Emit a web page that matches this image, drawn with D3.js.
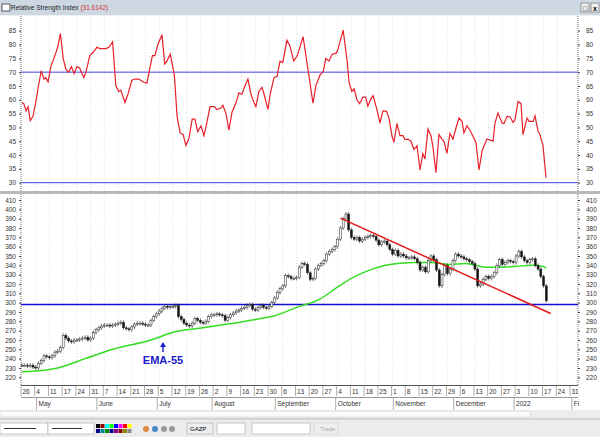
<!DOCTYPE html>
<html><head><meta charset="utf-8">
<script src="https://cdn.jsdelivr.net/npm/d3@7"></script>
<style>body{margin:0;background:#fff}svg{display:block}text{font-family:"Liberation Sans",Arial,sans-serif}</style>
</head><body><div id="c"></div>
<script>
// ---- data ----
const closes=[233,233,232,233,231,230,235,238,243,242,241,243,247,248,252,265,262,259,258,260,260,261,262,263,260,262,268,271,273,275,276,276,275,276,277,278,279,273,272,271,274,277,278,278,277,276,276,281,285,288,291,294,296,295,296,296,297,285,282,278,276,275,278,283,281,279,278,280,285,287,287,288,287,286,281,284,287,289,291,292,294,295,297,298,293,292,295,297,295,294,296,300,305,311,315,318,329,328,326,326,327,338,342,341,332,325,326,336,340,342,345,352,355,357,360,368,380,390,395,378,370,368,370,366,368,370,371,372,371,367,362,365,366,362,357,352,356,350,352,350,348,348,349,347,343,335,338,333,345,350,346,335,318,330,340,331,336,345,352,350,349,347,346,344,342,336,318,320,325,328,326,328,332,340,346,341,343,345,344,343,350,355,349,345,343,346,347,340,336,328,318,302];
const rsi=[[0,59],[0.7,58.5],[1.5,56],[2.2,57.5],[3,52.5],[4,54],[5,59],[6,65],[7,70.5],[8,67.5],[8.7,68],[9.5,66.5],[10.5,72],[12,76],[13,79],[14,84],[15,75],[16,71],[17,70],[18,72],[19,69.5],[20,72],[21,71.5],[22.5,68],[23.3,70],[24.7,76],[25.8,77],[27.3,79],[28.4,78.5],[30.5,78.5],[31.7,79],[33,81],[34.2,65],[35.3,63],[36,63.5],[37.5,59],[38.6,62],[40,67],[41,67.5],[42.6,67.5],[44,66.5],[45.5,66],[46.7,72],[47.5,76],[48.4,76],[49.5,80],[51,83.5],[52,73],[52.8,74],[54,76.5],[55.5,69],[56.5,54],[57.6,48],[58.7,47.5],[59.7,43.5],[60.8,46],[62,53],[63,53],[64,48.5],[65.2,50.5],[66.3,47],[67.4,52],[68.5,57.5],[70,57.5],[71,56.5],[72.5,57],[73.2,58],[74.3,55],[75.4,49],[76.5,55.5],[78,59],[79,62.5],[80.1,62],[81.2,65],[82.3,67.5],[83.4,62],[84.5,59],[85.2,57.5],[86.3,63],[87.4,64.5],[88.2,62],[89.6,56.5],[90.4,62],[91.8,68],[92.9,68.5],[94,74],[95,73.5],[96.5,81.5],[97.6,79.5],[99,74],[100.3,76],[102.4,82.8],[104.2,70.8],[106,58.8],[107.1,65.3],[108.6,69],[109.7,70.2],[110.7,75],[111.8,74],[113,76.5],[114.4,76.8],[115,78],[117,85.2],[118.4,74.4],[119.2,66],[120.2,63],[121,64],[122,60],[123,58.6],[124.2,61],[125.2,61],[126,57.7],[127.2,60.5],[127.9,61.5],[129.3,56.4],[130.4,51.6],[131.5,56],[132.8,55.8],[133.7,53.4],[134.8,46.8],[135.5,44.6],[136.6,51.4],[137.7,47],[138.8,47],[139.5,45.6],[140.6,45.8],[141.7,45],[142.8,42],[143.9,43.4],[145,34.6],[146,40.5],[146.8,38.6],[147.9,49.4],[149,47],[149.7,43],[150.8,33.6],[151.9,47.4],[153,45.8],[153.7,45],[154.8,40.6],[155.9,47.8],[157,45.8],[158.1,49.8],[159.2,53.4],[160.3,52.2],[161,48],[162.1,50.6],[163.2,49],[164.3,46.8],[165.4,44.4],[166.5,34.6],[167.6,41.4],[168.3,43.3],[169.4,45.8],[170.5,45.4],[171.6,45],[172.3,51.6],[173.4,55.2],[174.9,51.6],[175.6,51.4],[176.7,54],[177.8,53.8],[178.9,51.8],[179.6,52.8],[180.7,59.4],[181.8,58.6],[182.5,47.4],[184,53.4],[184.7,52.2],[186.2,52.2],[186.9,54.2],[188,48.6],[188.7,47.4],[189.8,43.4],[190.9,31.8]];
const ema=[[0,226],[8,227.5],[13,230],[23,240],[33,250],[47,260],[56,269],[66,273],[75,277],[85,282],[92,286],[101,296],[108,303],[115.6,318],[120,326],[125,333],[132.5,340],[137,342],[143.5,343],[149.5,343],[155.6,341],[161.7,342],[169,338],[174,338],[180,339],[186,340],[189.6,339],[191,337]];
const trend=[[116,390.6],[192.6,288.4]];
const support=298;
const rsiLevels=[70,30];
const rsiTicks=[30,35,40,45,50,55,60,65,70,75,80,85];
const priceTicks=d3.range(220,411,10);
const weekLabels=["26","4","11","17","24","31","7","14","21","28","5","12","19","26","2","9","16","23","30","6","13","20","27","4","11","18","25","1","8","15","22","29","6","13","20","27","3","10","17","24","31"];
const months=[["May",6],["June",28],["July",50],["August",70],["September",93],["October",115],["November",136],["December",158],["2022",180],["Fi",201]];

// ---- layout ----
const W=600,H=437,L=21,R=578;
const svg=d3.select("#c").append("svg").attr("width",W).attr("height",H);
const x=d3.scaleLinear().domain([0,200]).range([22,571]);
const yR=d3.scaleLinear().domain([30,85]).range([182.7,30.7]);
const yP=d3.scaleLinear().domain([220,410]).range([377.3,200]);
const fs=6.5;

svg.append("rect").attr("width",W).attr("height",H).attr("fill","#f0f0f0");
svg.append("rect").attr("x",0).attr("y",0).attr("width",W).attr("height",15).attr("fill","#cdd8e3");
svg.append("rect").attr("x",2).attr("y",4).attr("width",8).attr("height",7).attr("fill","#fff").attr("stroke","#333").attr("stroke-width",0.8);
svg.append("text").attr("x",11).attr("y",10).attr("font-size",6.5).attr("fill","#222").text("Relative Strength Index ").append("tspan").attr("fill","#d03030").text("(31.6142)");
[[581,"□"],[591,"x"]].forEach(([bx,t])=>{svg.append("rect").attr("x",bx).attr("y",3).attr("width",8).attr("height",9).attr("fill","#eee").attr("stroke","#666").attr("stroke-width",0.6);
 svg.append("text").attr("x",bx+4).attr("y",10.5).attr("text-anchor","middle").attr("font-size",7).attr("font-weight","bold").text(t);});
svg.append("rect").attr("x",0).attr("y",16).attr("width",W).attr("height",175).attr("fill","#fff");
svg.append("rect").attr("x",0).attr("y",194).attr("width",W).attr("height",216).attr("fill","#fff");
svg.append("rect").attr("x",0).attr("y",191).attr("width",W).attr("height",3).attr("fill","#b8b8b8");

const weeks=d3.range(0,41).map(k=>k*5);
[[16,191],[194,385]].forEach(([a,b])=>{
 svg.append("g").selectAll("line").data(weeks.slice(1,-1)).join("line")
  .attr("x1",d=>x(d)).attr("x2",d=>x(d)).attr("y1",a).attr("y2",b)
  .attr("stroke","#c8c8c8").attr("stroke-width",0.6).attr("stroke-dasharray","1,2");
});
[[16,191],[194,385]].forEach(([a,b])=>{
 [L,R].forEach(xx=>svg.append("line").attr("x1",xx).attr("x2",xx).attr("y1",a).attr("y2",b).attr("stroke","#444").attr("stroke-width",0.8).attr("stroke-dasharray","1,1"));
});
function yAxis(sc,ticks){
 const gl=svg.append("g").attr("transform",`translate(${L},0)`).call(d3.axisLeft(sc).tickValues(ticks).tickSize(2).tickPadding(3));
 const gr=svg.append("g").attr("transform",`translate(${R},0)`).call(d3.axisRight(sc).tickValues(ticks).tickSize(2).tickPadding(6));
 [gl,gr].forEach(g=>{g.select(".domain").remove();g.selectAll("text").attr("font-size",fs).attr("fill","#333").style("font-family","Liberation Sans");g.selectAll("line").attr("stroke","#444");});
}
yAxis(yR,rsiTicks);
yAxis(yP,priceTicks);

svg.selectAll(".lvl").data(rsiLevels).join("line").attr("x1",L).attr("x2",R).attr("y1",d=>yR(d)).attr("y2",d=>yR(d)).attr("stroke","#4040e0").attr("stroke-width",1);
svg.append("path").datum(rsi).attr("fill","none").attr("stroke","#e8202a").attr("stroke-width",1.2)
 .attr("d",d3.line().x(d=>x(d[0])).y(d=>yR(d[1])));

svg.append("line").attr("x1",L).attr("x2",R).attr("y1",yP(support)).attr("y2",yP(support)).attr("stroke","#1010d0").attr("stroke-width",1.3);
svg.append("path").datum(ema).attr("fill","none").attr("stroke","#33dd22").attr("stroke-width",1.5)
 .attr("d",d3.line().curve(d3.curveMonotoneX).x(d=>x(d[0])).y(d=>yP(d[1])));
const cg=svg.append("g");
closes.forEach((c,i)=>{
 const o=i?closes[i-1]:c, top=yP(Math.max(o,c)), bot=yP(Math.min(o,c)), cx=x(i);
 cg.append("line").attr("x1",cx).attr("x2",cx).attr("y1",top-2).attr("y2",bot+2).attr("stroke","#222").attr("stroke-width",0.6);
 cg.append("rect").attr("x",cx-1).attr("y",top).attr("width",2).attr("height",Math.max(1,bot-top))
  .attr("fill",c>=o?"#fff":"#111").attr("stroke","#222").attr("stroke-width",0.5);
});
svg.append("line").attr("x1",x(trend[0][0])).attr("y1",yP(trend[0][1])).attr("x2",x(trend[1][0])).attr("y2",yP(trend[1][1])).attr("stroke","#e01818").attr("stroke-width",1.5);
svg.append("line").attr("x1",163).attr("x2",163).attr("y1",352).attr("y2",345).attr("stroke","#1a1ac8").attr("stroke-width",1.4);
svg.append("path").attr("d","M160,347 L163,342 L166,347 Z").attr("fill","#1a1ac8");
svg.append("text").attr("x",163).attr("y",364).attr("text-anchor","middle").attr("font-size",11).attr("font-weight","bold").attr("fill","#1a1ac8").style("font-family","Liberation Sans Narrow, Liberation Sans").text("EMA-55");

svg.append("rect").attr("x",L).attr("y",385).attr("width",R-L).attr("height",25).attr("fill","#fff");
svg.append("line").attr("x1",L).attr("x2",R).attr("y1",385.5).attr("y2",385.5).attr("stroke","#555");
svg.append("line").attr("x1",L).attr("x2",R).attr("y1",397.5).attr("y2",397.5).attr("stroke","#999");
const xa=svg.append("g");
weeks.forEach((d,k)=>{
 xa.append("line").attr("x1",x(d)-1).attr("x2",x(d)-1).attr("y1",386).attr("y2",396).attr("stroke","#777").attr("stroke-width",0.6);
 xa.append("text").attr("x",x(d)+0.5).attr("y",394).attr("font-size",fs).attr("fill","#333").text(weekLabels[k]);
});
months.forEach(([m,d])=>{
 xa.append("line").attr("x1",x(d)-2).attr("x2",x(d)-2).attr("y1",398).attr("y2",410).attr("stroke","#777").attr("stroke-width",0.6);
 xa.append("text").attr("x",x(d)).attr("y",406).attr("font-size",fs).attr("fill","#333").text(m);
});
svg.append("rect").attr("x",0).attr("y",410).attr("width",W).attr("height",27).attr("fill","#ececec");
svg.append("rect").attr("x",0).attr("y",411).attr("width",530).attr("height",6).attr("fill","#fafafa").attr("stroke","#ccc").attr("stroke-width",0.5);
svg.append("line").attr("x1",0).attr("x2",W).attr("y1",419).attr("y2",419).attr("stroke","#bbb");
[[0,40],[48,38]].forEach(([bx,w])=>{svg.append("rect").attr("x",bx).attr("y",423).attr("width",w+8).attr("height",11).attr("fill","#fff").attr("stroke","#999").attr("stroke-width",0.5);
 svg.append("line").attr("x1",bx+4).attr("x2",bx+w-4).attr("y1",428.5).attr("y2",428.5).attr("stroke","#333");});
const pal=["#000","#800","#0ff","#0f0","#00f","#f0f","#f00","#ff0","#008","#088","#080","#008","#808","#800","#880","#888"];
pal.forEach((c,i)=>svg.append("rect").attr("x",96+(i%8)*4.5).attr("y",424+Math.floor(i/8)*5).attr("width",4).attr("height",4).attr("fill",c));
[146,155,164,172].forEach((bx,i)=>svg.append("circle").attr("cx",bx).attr("cy",429).attr("r",3).attr("fill",["#d84","#48c","#999","#999"][i]));
svg.append("rect").attr("x",187).attr("y",423).attr("width",26).attr("height",11).attr("fill","#eee").attr("stroke","#999").attr("stroke-width",0.5);
svg.append("text").attr("x",190).attr("y",431).attr("font-size",6).text("GAZP");
[[217,28],[252,58]].forEach(([bx,w])=>svg.append("rect").attr("x",bx).attr("y",423).attr("width",w).attr("height",11).attr("fill","#fff").attr("stroke","#999").attr("stroke-width",0.5));
svg.append("rect").attr("x",314).attr("y",423).attr("width",24).attr("height",11).attr("fill","#eee").attr("stroke","#ccc").attr("stroke-width",0.5);
svg.append("text").attr("x",320).attr("y",431).attr("font-size",6).attr("fill","#aaa").text("Trade");
</script></body></html>
